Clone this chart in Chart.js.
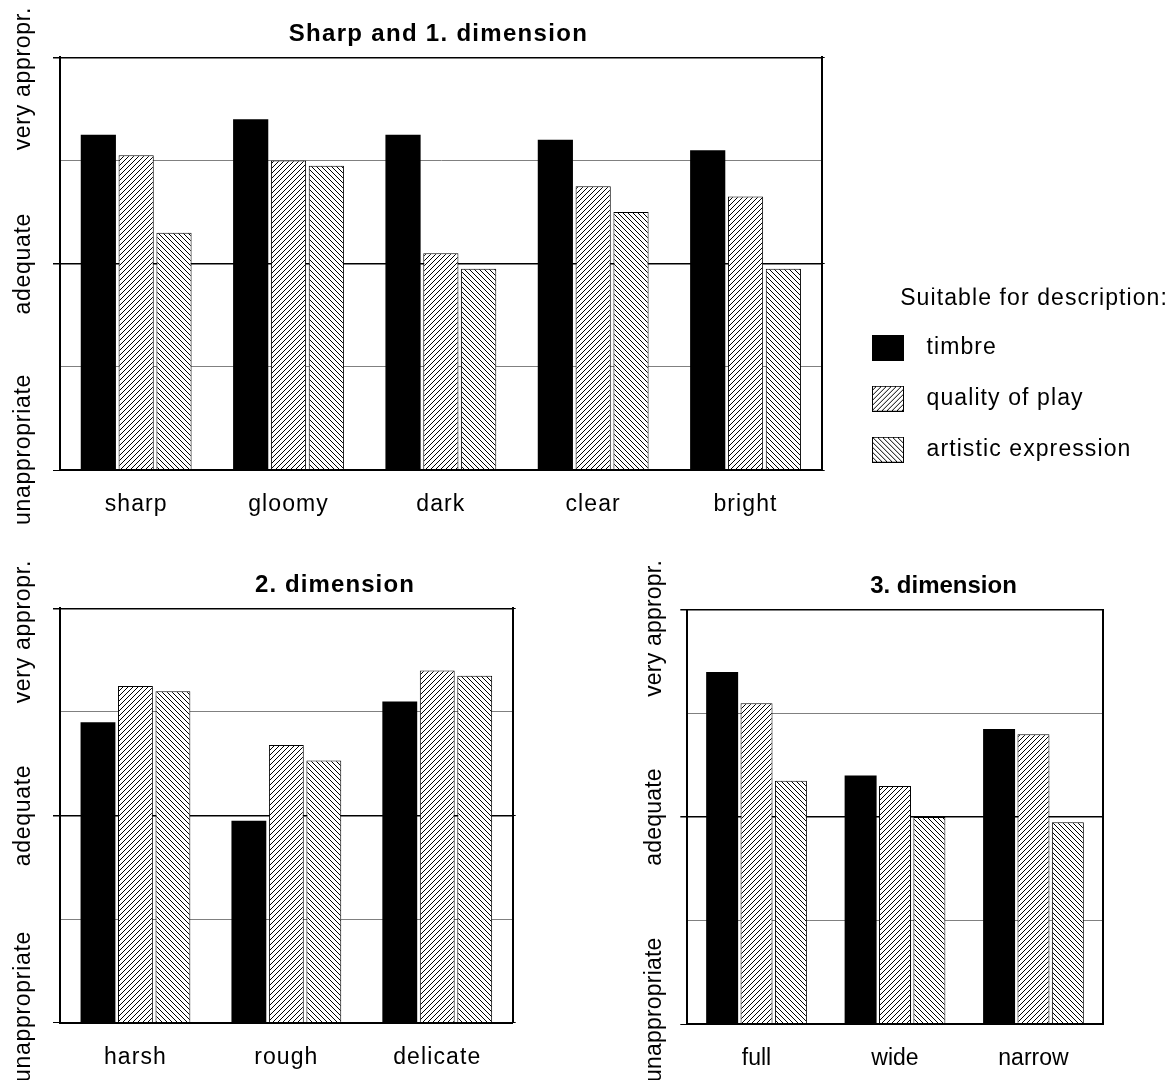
<!DOCTYPE html>
<html><head><meta charset="utf-8">
<script src="https://cdn.jsdelivr.net/npm/chart.js@4/dist/chart.umd.min.js"></script>
<style>
html,body{margin:0;padding:0;background:#fff;width:1172px;height:1080px;overflow:hidden;}
canvas{position:absolute;}
#c1{left:0;top:0;} #c2{left:0;top:555px;} #c3{left:600px;top:555px;}
</style></head><body>
<canvas id="c1" width="1172" height="530"></canvas>
<canvas id="c2" width="560" height="525"></canvas>
<canvas id="c3" width="572" height="525"></canvas>
<script>
// ---------- data ----------
const seriesNames = ['timbre', 'quality of play', 'artistic expression'];
const legendTitle = 'Suitable for description:';
const yTickValues = [0, 2, 4];
const yTickLabels = ['unappropriate', 'adequate', 'very appropr.'];

const dim1Title = 'Sharp and 1. dimension';
const dim1Labels = ['sharp', 'gloomy', 'dark', 'clear', 'bright'];
const dim1Timbre = [3.25, 3.40, 3.25, 3.20, 3.10];
const dim1Quality = [3.05, 3.00, 2.10, 2.75, 2.65];
const dim1Artistic = [2.30, 2.95, 1.95, 2.50, 1.95];

const dim2Title = '2. dimension';
const dim2Labels = ['harsh', 'rough', 'delicate'];
const dim2Timbre = [2.90, 1.95, 3.10];
const dim2Quality = [3.25, 2.68, 3.40];
const dim2Artistic = [3.20, 2.53, 3.35];

const dim3Title = '3. dimension';
const dim3Labels = ['full', 'wide', 'narrow'];
const dim3Timbre = [3.40, 2.40, 2.85];
const dim3Quality = [3.10, 2.30, 2.80];
const dim3Artistic = [2.35, 2.00, 1.95];

// ---------- styling ----------
const FONT = "'Liberation Sans', Arial, Helvetica, sans-serif";
Chart.defaults.font.family = FONT;
Chart.defaults.font.size = 23;
Chart.defaults.color = '#000';

function hatchTile(forward, pitch) {
  const c = document.createElement('canvas'); c.width = pitch; c.height = pitch;
  const g = c.getContext('2d');
  g.fillStyle = '#fff'; g.fillRect(0, 0, pitch, pitch);
  g.fillStyle = '#000';
  for (let x = 0; x < pitch; x++) {
    const y = forward ? pitch - 1 - x : x;
    g.fillRect(x, y, 1, 1);
  }
  return c;
}
const patCtx = document.createElement('canvas').getContext('2d');
const fwdPattern = patCtx.createPattern(hatchTile(true, 5), 'repeat');
const backPattern = patCtx.createPattern(hatchTile(false, 5), 'repeat');
const fills = ['#000', fwdPattern, backPattern];

function swatch(fill) {
  const c = document.createElement('canvas'); c.width = 43; c.height = 26;
  const g = c.getContext('2d');
  g.fillStyle = fill; g.fillRect(0, 0, 32, 26);
  g.strokeStyle = '#000'; g.lineWidth = 1; g.strokeRect(0.5, 0.5, 31, 25);
  return c;
}
const swatches = fills.map(swatch);

const decor = {
  id: 'decor',
  afterLayout(chart, args, o) {
    if (o.legendBox && chart.legend) {
      const b = o.legendBox, lg = chart.legend;
      lg.left = b.left; lg.top = b.top; lg.width = b.width; lg.height = b.height;
      lg.right = b.left + b.width; lg.bottom = b.top + b.height;
    }
  },
  beforeDraw(chart, args, o) {
    chart.ctx.letterSpacing = (o.spacing || 0) + 'px';
  },
  afterDraw(chart, args, o) {
    const ctx = chart.ctx, area = chart.chartArea, ys = chart.scales.y;
    ctx.save();
    ctx.fillStyle = '#000';
    ctx.textAlign = 'center';
    ctx.textBaseline = 'middle';
    ctx.font = 'bold 24px ' + FONT;
    ctx.letterSpacing = (o.titleSpacing || 0) + 'px';
    ctx.fillText(o.title, (area.left + area.right) / 2 + o.titleDx, o.titleY);
    ctx.font = '23px ' + FONT;
    ctx.letterSpacing = (o.ySpacing || 0) + 'px';
    yTickValues.forEach((v, i) => {
      const text = yTickLabels[i];
      const w = ctx.measureText(text).width;
      let cy = ys.getPixelForValue(v);
      cy = Math.max(cy, o.yTopMargin + w / 2);
      cy = Math.min(cy, chart.height - o.yBottomMargin - w / 2);
      ctx.save();
      ctx.translate(area.left + o.yLabelDx, cy);
      ctx.rotate(-Math.PI / 2);
      ctx.fillText(text, 0, 0);
      ctx.restore();
    });
    ctx.restore();
  }
};

function build(id, labels, t, q, a, o) {
  const major = c => c.tick && (c.tick.value === 0 || c.tick.value === 2 || c.tick.value === 4);
  return new Chart(document.getElementById(id), {
    type: 'bar',
    data: {
      labels: labels,
      datasets: [
        { label: seriesNames[0], data: t, backgroundColor: fills[0], borderColor: '#000', borderWidth: 0 },
        { label: seriesNames[1], data: q, backgroundColor: fills[1], borderColor: '#000', borderWidth: 1 },
        { label: seriesNames[2], data: a, backgroundColor: fills[2], borderColor: '#000', borderWidth: 1 }
      ]
    },
    options: {
      responsive: false, animation: false, events: [],
      layout: { padding: { top: o.top, left: 0, right: 0, bottom: 0 } },
      datasets: { bar: { categoryPercentage: 0.745, barPercentage: 0.93 } },
      scales: {
        x: {
          grid: { display: false },
          border: { display: true, color: '#000', width: 2, z: 1 },
          ticks: { padding: 13, font: { size: 23 }, color: '#000', autoSkip: false, maxRotation: 0, minRotation: 0 },
          afterFit: s => { s.height = o.xh; }
        },
        y: {
          min: 0, max: 4,
          ticks: { display: false, stepSize: 1 },
          grid: {
            color: c => (c.tick && c.tick.value === 1 || c.tick && c.tick.value === 3) ? '#808080' : '#000',
            lineWidth: c => (c.tick && (c.tick.value === 2 || c.tick.value === 4)) ? 1.5 : 1,
            tickLength: 7,
            tickColor: c => major(c) ? '#000' : 'rgba(0,0,0,0)'
          },
          border: { color: '#000', width: 2, z: 1 },
          afterFit: s => { s.width = o.yw; }
        },
        y2: {
          position: 'right', min: 0, max: 4,
          ticks: { display: false, stepSize: 1 },
          grid: {
            drawOnChartArea: false, tickLength: 3,
            tickColor: c => (o.rightTicks && major(c)) ? '#000' : 'rgba(0,0,0,0)'
          },
          border: { color: '#000', width: 2, z: 1 },
          afterFit: s => { s.width = o.y2w; }
        }
      },
      plugins: {
        tooltip: { enabled: false },
        legend: o.legend ? {
          display: true, position: 'right', align: 'start', maxWidth: 1,
          title: { display: true, text: legendTitle, position: 'end', color: '#000', font: { size: 23, lineHeight: 0.9 }, padding: 0 },
          labels: {
            color: '#000', font: { size: 23 }, padding: 28,
            usePointStyle: true, pointStyleWidth: 43,
            generateLabels: chart => Chart.defaults.plugins.legend.labels.generateLabels(chart).map((it, i) => {
              it.pointStyle = swatches[i]; return it;
            })
          }
        } : { display: false },
        decor: {
          spacing: o.spacing, titleSpacing: o.titleSpacing, ySpacing: o.ySpacing,
          title: o.title, titleDx: o.titleDx, titleY: o.titleY,
          yLabelDx: o.yLabelDx, yTopMargin: o.yTopMargin, yBottomMargin: o.yBottomMargin,
          legendBox: o.legendBox
        }
      }
    },
    plugins: [decor]
  });
}

build('c1', dim1Labels, dim1Timbre, dim1Quality, dim1Artistic, {
  top: 57.3, xh: 60, yw: 60, y2w: 1172 - 1 - 821.7, rightTicks: true,
  spacing: 1.1, titleSpacing: 1.3, ySpacing: 0.7,
  title: dim1Title, titleDx: -2.4, titleY: 34,
  yLabelDx: -36, yTopMargin: 7, yBottomMargin: 5,
  legend: true, legendBox: { left: 844, top: 287.5, width: 324, height: 242.5 }
});
build('c2', dim2Labels, dim2Timbre, dim2Quality, dim2Artistic, {
  top: 53.3, xh: 57.3, yw: 60, y2w: 47.3, rightTicks: true,
  spacing: 1.1, titleSpacing: 1.1, ySpacing: 0.7,
  title: dim2Title, titleDx: 48.6, titleY: 30,
  yLabelDx: -36, yTopMargin: 5, yBottomMargin: -2,
  legend: false
});
build('c3', dim3Labels, dim3Timbre, dim3Quality, dim3Artistic, {
  top: 55, xh: 56, yw: 87.3, y2w: 69.3, rightTicks: false,
  spacing: 0, titleSpacing: 0, ySpacing: 0.2,
  title: dim3Title, titleDx: 48.5, titleY: 31.5,
  yLabelDx: -33, yTopMargin: 5, yBottomMargin: -2,
  legend: false
});
</script>
</body></html>
